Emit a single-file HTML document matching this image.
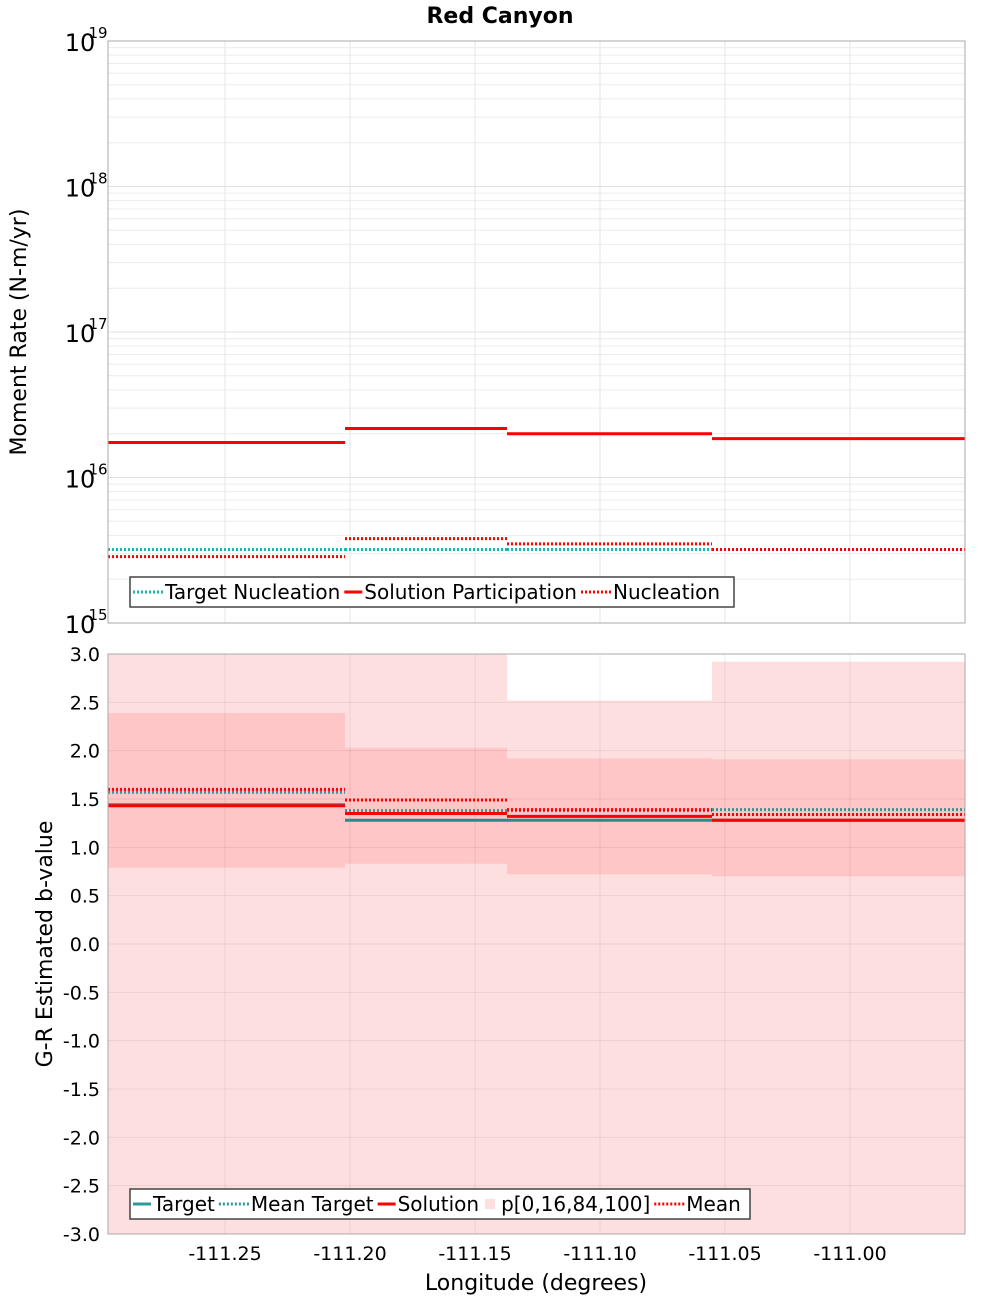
<!DOCTYPE html>
<html><head><meta charset="utf-8"><style>
body{margin:0;background:#fff;font-family:"Liberation Sans","DejaVu Sans",sans-serif}
svg text{font-family:"DejaVu Sans","Liberation Sans",sans-serif}
</style></head><body>
<svg id="c" width="1000" height="1300" xmlns="http://www.w3.org/2000/svg"></svg>
<script>
const edges=[-111.2968,-111.202,-111.1372,-111.0552,-110.954];
const solPart=[1.74e16,2.17e16,2.0e16,1.85e16];
const targetNuc=[3.2e15,3.2e15,3.2e15,3.2e15];
const nucl=[2.86e15,3.8e15,3.5e15,3.2e15];
const p0=[-3,-3,-3,-3];
const p100=[3.0,3.0,2.52,2.92];
const p16=[0.79,0.83,0.72,0.70];
const p84=[2.39,2.03,1.92,1.91];
const bSolution=[1.43,1.35,1.32,1.28];
const bTarget=[1.44,1.28,1.28,1.28];
const bMeanTarget=[1.57,1.38,1.38,1.39];
const bMean=[1.60,1.49,1.39,1.34];
const xTicks=[-111.25,-111.20,-111.15,-111.10,-111.05,-111.00];
const bTicks=[-3,-2.5,-2,-1.5,-1,-0.5,0,0.5,1,1.5,2,2.5,3];
const decades=[15,16,17,18,19];

const NS="http://www.w3.org/2000/svg",svg=document.getElementById('c');
const L=108,R=965,T1=41,B1=623,T2=654,B2=1234;
const X=v=>L+(v-edges[0])/(edges[4]-edges[0])*(R-L);
const Y1=v=>B1-(Math.log10(v)-15)/4*(B1-T1);
const Y2=v=>B2-(v+3)/6*(B2-T2);
function el(tag,at,parent){const e=document.createElementNS(NS,tag);for(const k in at)e.setAttribute(k,at[k]);(parent||svg).appendChild(e);return e;}
function txt(s,at,parent){const e=el('text',at,parent);e.textContent=s;return e;}

const ti=txt('Red Canyon',{x:500,y:23,'text-anchor':'middle','font-size':22,'font-weight':'bold'});



const g1=el('g',{});


for(let d=15;d<19;d++)for(let m=2;m<10;m++){const y=Y1(m*Math.pow(10,d));el('line',{x1:L,x2:R,y1:y,y2:y,stroke:'#ececec','stroke-width':1},g1);}
decades.forEach(d=>{const y=Y1(Math.pow(10,d));el('line',{x1:L,x2:R,y1:y,y2:y,stroke:'#e0e0e0'},g1);
 const t=txt('10',{x:80,y:y+10,'font-size':24,'text-anchor':'middle'},g1);
 
 
 txt(String(d),{x:98,y:y-3,'font-size':15,'text-anchor':'middle'},g1);});
xTicks.forEach(v=>el('line',{x1:X(v),x2:X(v),y1:T1,y2:B1,stroke:'#e6e6e6'},g1));
function steps(arr,yf,col,w,dash,g,name){arr.forEach((v,i)=>{const l=el('line',{x1:X(edges[i]),x2:X(edges[i+1]),y1:yf(v),y2:yf(v),stroke:col,'stroke-width':w},g);if(dash)l.setAttribute('stroke-dasharray',dash);
 
 });}
steps(targetNuc,Y1,'#1ab5b5',3,'2,2',g1,'target-nucleation-segment');
steps(nucl,Y1,'#f00',3,'2,2',g1,'nucleation-segment');
steps(solPart,Y1,'#f00',3,null,g1,'solution-participation-segment');
el('rect',{x:L,y:T1,width:R-L,height:B1-T1,fill:'none',stroke:'#aaa'},g1);
const yt1=txt('Moment Rate (N-m/yr)',{x:0,y:0,'font-size':22,'text-anchor':'middle',transform:'translate(26,332) rotate(-90)'});



const g2=el('g',{});


p0.forEach((v,i)=>{const r=el('rect',{x:X(edges[i]),y:Y2(p100[i]),width:X(edges[i+1])-X(edges[i]),height:Y2(v)-Y2(p100[i]),fill:'#fedfdf'},g2);
 
 });
p16.forEach((v,i)=>{const r=el('rect',{x:X(edges[i]),y:Y2(p84[i]),width:X(edges[i+1])-X(edges[i]),height:Y2(v)-Y2(p84[i]),fill:'#fec6c6'},g2);
 
 });
bTicks.forEach(v=>{const y=Y2(v);el('line',{x1:L,x2:R,y1:y,y2:y,stroke:'rgba(0,0,0,0.07)'},g2);
 const t=txt(v.toFixed(1),{x:100,y:y+7,'font-size':19,'text-anchor':'end'},g2);
 
 });
xTicks.forEach(v=>{el('line',{x1:X(v),x2:X(v),y1:T2,y2:B2,stroke:'rgba(0,0,0,0.07)'},g2);
 const t=txt(v.toFixed(2),{x:X(v),y:1260,'font-size':19,'text-anchor':'middle'});
 
 });
steps(bTarget,Y2,'#2a8a8a',3,null,g2,'target-segment');
steps(bMeanTarget,Y2,'#2a9a9a',3,'2,2',g2,'mean-target-segment');
steps(bMean,Y2,'#f00',3,'2,2',g2,'mean-segment');
steps(bSolution,Y2,'#f00',3,null,g2,'solution-segment');
el('rect',{x:L,y:T2,width:R-L,height:B2-T2,fill:'none',stroke:'#aaa'},g2);
const yt2=txt('G-R Estimated b-value',{x:0,y:0,'font-size':22,'text-anchor':'middle',transform:'translate(52,944) rotate(-90)'});


const xt=txt('Longitude (degrees)',{x:536,y:1290,'font-size':22,'text-anchor':'middle'});



function legend(x,y,w,items,name){const g=el('g',{});
 
 
 el('rect',{x:x,y:y,width:w,height:30,fill:'#fff',stroke:'#444','stroke-width':1.5},g);
 let cx=x+3;items.forEach(it=>{
  let lw;
  if(it.box){lw=16;el('rect',{x:cx+2,y:y+10,width:10,height:10,fill:it.c},g);}
  else{lw=it.d?30:18;const l=el('line',{x1:cx,x2:cx+lw,y1:y+15,y2:y+15,stroke:it.c,'stroke-width':3},g);if(it.d)l.setAttribute('stroke-dasharray','2,2');}
  const t=txt(it.t,{x:cx+lw+2,y:y+22,'font-size':20},g);
  
  
  cx+=lw+2+t.getComputedTextLength()+4;});}
legend(130,577,604,[{t:'Target Nucleation',c:'#1ab5b5',d:1},{t:'Solution Participation',c:'#f00'},{t:'Nucleation',c:'#f00',d:1}],'legend-top');
legend(130,1189,620,[{t:'Target',c:'#2a9a9a'},{t:'Mean Target',c:'#2a9a9a',d:1},{t:'Solution',c:'#f00'},{t:'p[0,16,84,100]',c:'#fedfdf',box:1},{t:'Mean',c:'#f00',d:1}],'legend-bottom');
</script>
</body></html>
